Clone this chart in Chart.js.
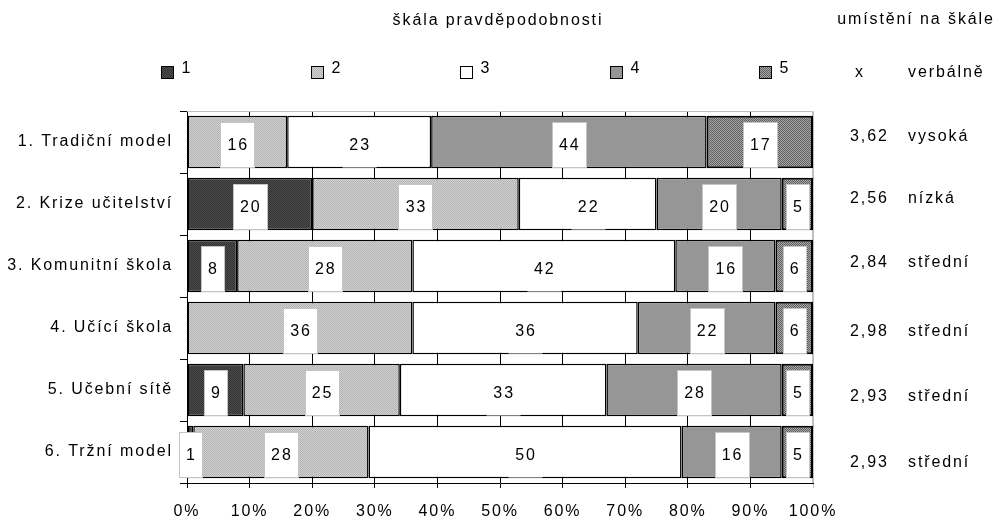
<!DOCTYPE html>
<html lang="cs">
<head>
<meta charset="utf-8">
<script src="https://cdn.jsdelivr.net/npm/chart.js@4.4.1/dist/chart.umd.min.js"></script>
<style>
  html, body { margin: 0; padding: 0; background: #fff; }
  #wrap { width: 996px; height: 518px; }
</style>
</head>
<body>
<div id="wrap"><canvas id="chart" width="996" height="518"></canvas></div>
<script>
// scenarios and how respondents rated each on the 1-5 scale (percent)
const categories = [
  "1. Tradiční model",
  "2. Krize učitelství",
  "3. Komunitní škola",
  "4. Učící škola",
  "5. Učební sítě",
  "6. Tržní model"
];
const seriesNames = ["1", "2", "3", "4", "5"];
const rating1 = [0, 20, 8, 0, 9, 1];
const rating2 = [16, 33, 28, 36, 25, 28];
const rating3 = [23, 22, 42, 36, 33, 50];
const rating4 = [44, 20, 16, 22, 28, 16];
const rating5 = [17, 5, 6, 6, 5, 5];

// position on the scale, numeric and verbal
const meanScores = ["3,62", "2,56", "2,84", "2,98", "2,93", "2,93"];
const verbalLevels = ["vysoká", "nízká", "střední", "střední", "střední", "střední"];

const FONT = 'Arial, "Liberation Sans", sans-serif';
const SPACING = "1.9px";

function checker(light, dark) {
  const c = document.createElement("canvas");
  c.width = 2;
  c.height = 2;
  const g = c.getContext("2d");
  g.fillStyle = light;
  g.fillRect(0, 0, 2, 2);
  g.fillStyle = dark;
  g.fillRect(0, 0, 1, 1);
  g.fillRect(1, 1, 1, 1);
  return g.createPattern(c, "repeat");
}

const fills = [
  checker("#4c4c4c", "#333333"),
  checker("#d0d0d0", "#b4b4b4"),
  "#ffffff",
  "#969696",
  checker("#a8a8a8", "#5e5e5e")
];
const seriesData = [rating1, rating2, rating3, rating4, rating5];

// small vertical nudges for the right-hand notes
const noteNudge = [-5, -5, -3, 4, 7, 11];

Chart.defaults.font.family = FONT;
Chart.defaults.font.size = 16;
Chart.defaults.color = "#000";

const spacingPlugin = {
  id: "spacing",
  beforeLayout(chart) { chart.ctx.letterSpacing = SPACING; },
  beforeDraw(chart) { chart.ctx.letterSpacing = SPACING; }
};

// top and right edge of the plot in light grey
const framePlugin = {
  id: "frame",
  beforeDatasetsDraw(chart) {
    const { ctx, chartArea: a } = chart;
    ctx.save();
    ctx.strokeStyle = "#c0c0c0";
    ctx.lineWidth = 1;
    ctx.beginPath();
    ctx.moveTo(a.left, a.top + 0.5);
    ctx.lineTo(a.right - 0.5, a.top + 0.5);
    ctx.lineTo(a.right - 0.5, a.bottom);
    ctx.stroke();
    ctx.restore();
  }
};

// white value boxes in the middle of every segment
const valueBoxes = {
  id: "valueBoxes",
  afterDatasetsDraw(chart) {
    const ctx = chart.ctx;
    ctx.save();
    ctx.letterSpacing = SPACING;
    ctx.font = "16px " + FONT;
    ctx.textAlign = "center";
    ctx.textBaseline = "middle";
    chart.data.datasets.forEach((ds, di) => {
      const meta = chart.getDatasetMeta(di);
      meta.data.forEach((bar, i) => {
        const v = ds.data[i];
        if (!v) return;
        const p = bar.getProps(["x", "y", "base", "height"], true);
        const cx = (p.x + p.base) / 2;
        const txt = String(v);
        const w = Math.round(ctx.measureText(txt).width + 12);
        const h = Math.round(p.height - 8);
        const bx = Math.round(cx - w / 2) + 0.5;
        const by = Math.round(p.y - h / 2 + 2) + 0.5;
        ctx.fillStyle = "#fff";
        ctx.fillRect(bx, by, w, h);
        if (di !== 2) {
          ctx.strokeStyle = "#c4c4c4";
          ctx.lineWidth = 1;
          ctx.strokeRect(bx, by, w, h);
        }
        ctx.fillStyle = "#000";
        ctx.fillText(txt, cx + 1, by + h / 2 + 1);
      });
    });
    ctx.restore();
  }
};

// headings, legend row and the notes on the right
const annotations = {
  id: "annotations",
  afterDraw(chart) {
    const ctx = chart.ctx;
    const yScale = chart.scales.y;
    ctx.save();
    ctx.letterSpacing = SPACING;
    ctx.font = "16px " + FONT;
    ctx.fillStyle = "#000";
    ctx.textBaseline = "middle";

    ctx.textAlign = "center";
    ctx.fillText("škála pravděpodobnosti", 498, 21);
    ctx.fillText("umístění na škále", 916, 20);
    ctx.fillText("x", 860, 73);
    ctx.textAlign = "left";
    ctx.fillText("verbálně", 908, 73);

    // legend
    seriesNames.forEach((name, i) => {
      const bx = Math.round(161 + i * 149.5) + 0.5;
      ctx.fillStyle = fills[i];
      ctx.fillRect(bx, 66.5, 12, 12);
      ctx.strokeStyle = "#000";
      ctx.lineWidth = 1;
      ctx.strokeRect(bx, 66.5, 12, 12);
      ctx.fillStyle = "#000";
      ctx.fillText(name, bx + 20, 69);
    });

    categories.forEach((c, i) => {
      const y = yScale.getPixelForValue(i) + noteNudge[i];
      ctx.fillText(meanScores[i], 850, y);
      ctx.fillText(verbalLevels[i], 908, y);
    });
    ctx.restore();
  }
};

new Chart(document.getElementById("chart"), {
  type: "bar",
  data: {
    labels: categories,
    datasets: seriesNames.map((name, i) => ({
      label: name,
      data: seriesData[i],
      backgroundColor: fills[i],
      borderColor: "#000",
      borderWidth: i === 4 ? 2 : 1.5,
      borderSkipped: false,
      barPercentage: 0.85,
      categoryPercentage: 1
    }))
  },
  options: {
    indexAxis: "y",
    responsive: false,
    animation: false,
    layout: { padding: { top: 111, right: 183, left: 0, bottom: 0 } },
    plugins: {
      legend: { display: false },
      tooltip: { enabled: false }
    },
    scales: {
      x: {
        stacked: true,
        min: 0,
        max: 100,
        ticks: {
          stepSize: 10,
          padding: 14,
          maxRotation: 0,
          callback: v => v + "%"
        },
        grid: {
          color: c => (c.tick && c.tick.value === 100 ? "#c0c0c0" : "#000"),
          tickLength: 5,
          lineWidth: 1
        },
        border: { display: true, color: "#000" },
        afterFit(scale) { scale.height = 35; }
      },
      y: {
        stacked: true,
        offset: true,
        ticks: { padding: 7 },
        grid: {
          drawOnChartArea: false,
          offset: true,
          tickLength: 7,
          color: "#000"
        },
        border: { display: true, color: "#000" },
        afterFit(scale) { scale.width = 187; }
      }
    }
  },
  plugins: [spacingPlugin, framePlugin, valueBoxes, annotations]
});
</script>
</body>
</html>
